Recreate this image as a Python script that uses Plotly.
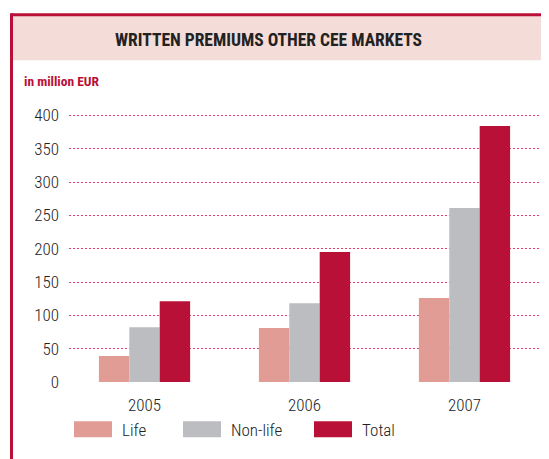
import plotly.graph_objects as go

years = ["2005", "2006", "2007"]
life = [39, 81, 126]
non_life = [82, 118, 261]
total = [121, 195, 384]
series_names = ["Life", "Non-life", "Total"]
colors = ["#e09c95", "#bcbdc0", "#b91037"]
y_ticks = [0, 50, 100, 150, 200, 250, 300, 350, 400]

W, H = 549, 459
OFF = 8  # page body margin offset
Y_MAX = 402
L, R, B = 69 - OFF, 540 - OFF, 381.7 - OFF
T = B - (381.7 - 115) * Y_MAX / 400
FONT = "Roboto Condensed, Liberation Sans Narrow, DejaVu Sans Condensed, Arial Narrow, sans-serif"


def px(x):
    return (x - OFF - L) / (R - L)


def py(y):
    return (B - (y - OFF)) / (B - T)


fig = go.Figure()
xs = list(range(len(years)))
for name, vals, c in zip(series_names, [life, non_life, total], colors):
    fig.add_trace(go.Bar(x=xs, y=vals, name=name, marker=dict(color=c, line=dict(width=0)),
                         showlegend=False))

fig.update_layout(
    width=W, height=H,
    margin=dict(l=L, r=W - R, t=T, b=H - B),
    paper_bgcolor="white", plot_bgcolor="white",
    barmode="group", bargap=0.43, bargroupgap=0,
    font=dict(family=FONT, color="#333333"),
)
fig.update_xaxes(
    tickmode="array", tickvals=xs, ticktext=years,
    range=[-0.472, 2.472], showgrid=False, zeroline=False, showline=False,
    ticks="", tickfont=dict(size=17, color="#222222", weight=300), ticklabelstandoff=11,
)
fig.update_yaxes(
    range=[0, Y_MAX], tickvals=y_ticks, showgrid=True, griddash="2px,2px",
    gridcolor="#e0406a", gridwidth=1, zeroline=False, showline=False,
    ticks="", tickfont=dict(size=17, color="#222222", weight=300), ticklabelstandoff=9,
)

shapes = []
# header band
shapes.append(dict(type="rect", xref="paper", yref="paper", x0=px(12), x1=px(W + 20),
                   y0=py(60), y1=py(15), fillcolor="#f4dcd9", line=dict(width=0), layer="below"))
# frame lines
shapes.append(dict(type="line", xref="paper", yref="paper", x0=px(11.5), x1=px(W + 20),
                   y0=py(14.5), y1=py(14.5), line=dict(color="#b91037", width=3)))
shapes.append(dict(type="line", xref="paper", yref="paper", x0=px(11.5), x1=px(11.5),
                   y0=py(13), y1=py(H + 20), line=dict(color="#b91037", width=3)))

annotations = [
    dict(text="<b>WRITTEN PREMIUMS OTHER CEE MARKETS</b>", xref="paper", yref="paper",
         x=px(268), y=py(40), xanchor="center", yanchor="middle", showarrow=False,
         font=dict(size=17.5, color="#222222", family=FONT)),
    dict(text="<b>in million EUR</b>", xref="paper", yref="paper",
         x=px(22), y=py(81), xanchor="left", yanchor="middle", showarrow=False,
         font=dict(size=13.5, color="#b91037", family=FONT)),
]

# legend swatches + labels
leg_x = [74, 183, 314]
for name, c, lx in zip(series_names, colors, leg_x):
    shapes.append(dict(type="rect", xref="paper", yref="paper", x0=px(lx), x1=px(lx + 38),
                       y0=py(437), y1=py(421), fillcolor=c, line=dict(width=0)))
    annotations.append(dict(text=name, xref="paper", yref="paper", x=px(lx + 46), y=py(430),
                            xanchor="left", yanchor="middle", showarrow=False,
                            font=dict(size=17, color="#222222", family=FONT, weight=300)))

fig.update_layout(shapes=shapes, annotations=annotations)
fig.write_html("out.html")
